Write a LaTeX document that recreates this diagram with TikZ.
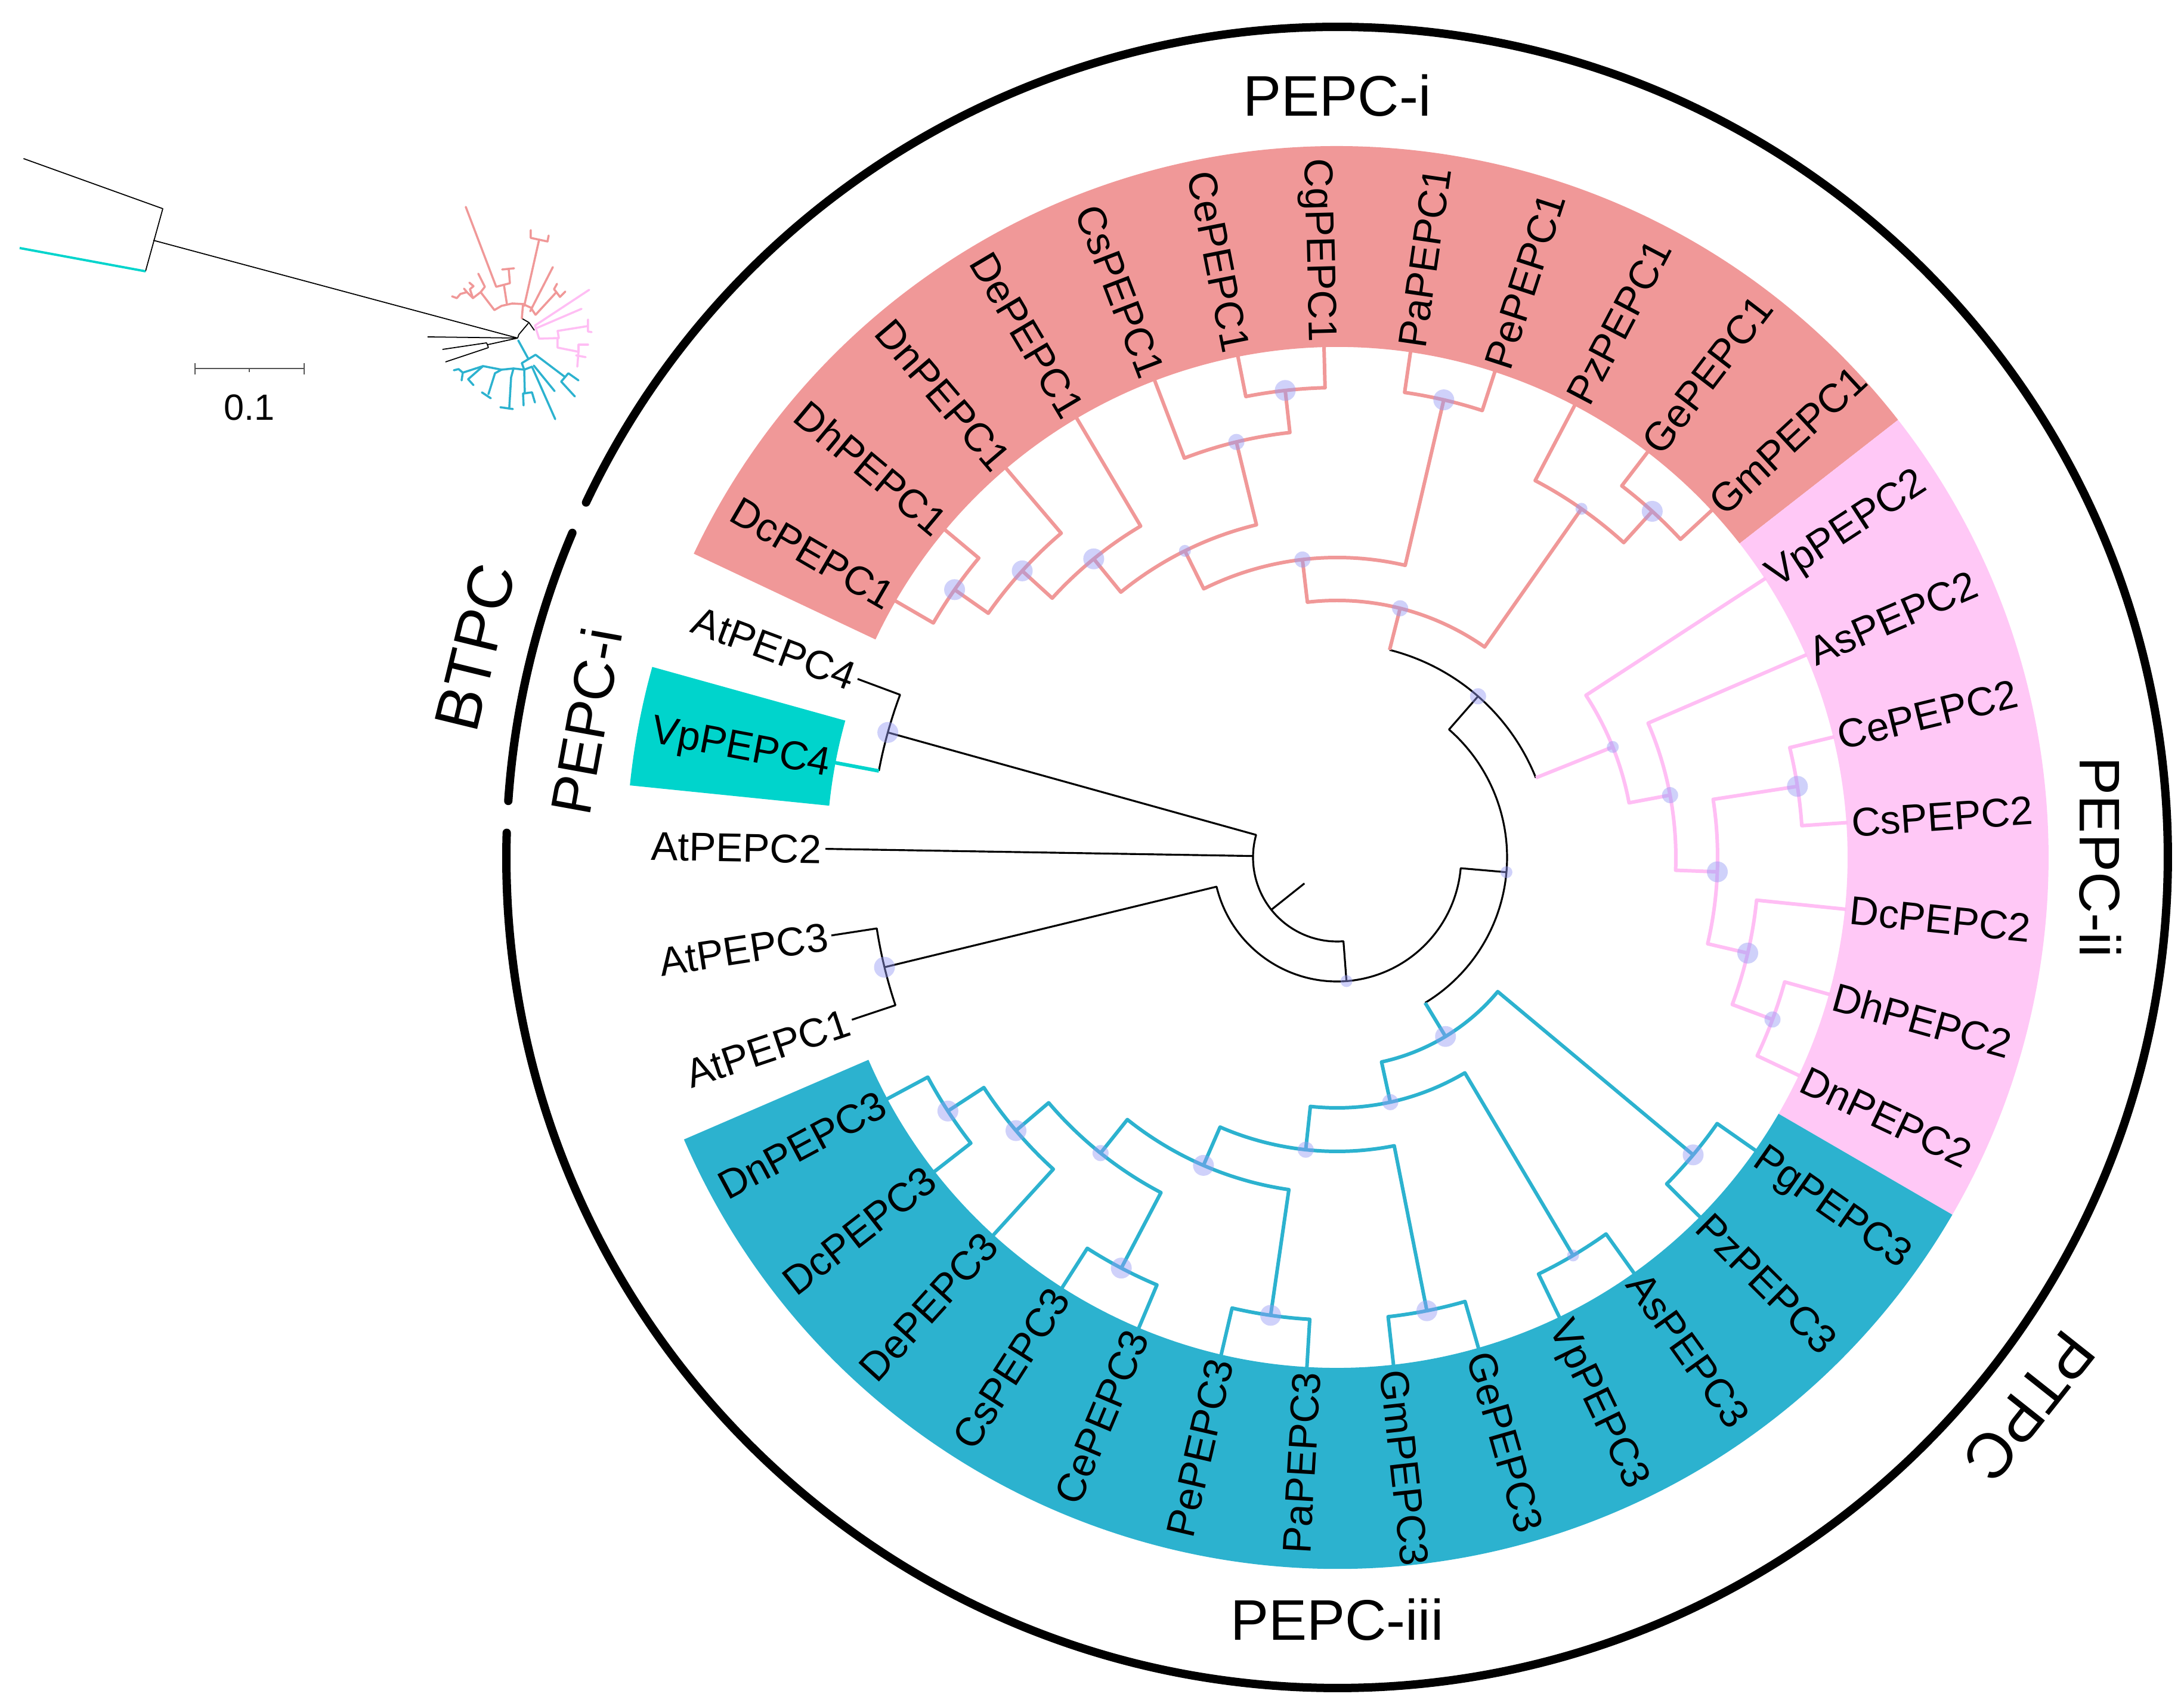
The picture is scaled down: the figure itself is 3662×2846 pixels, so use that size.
\documentclass[tikz,border=0pt]{standalone}
\usepackage{fontspec}
\setmainfont{Liberation Sans}
\definecolor{cRed}{RGB}{240,152,152}
\definecolor{cPink}{RGB}{255,200,246}
\definecolor{cPinkL}{RGB}{255,190,244}
\definecolor{cBlue}{RGB}{44,178,207}
\definecolor{cCyan}{RGB}{0,212,204}
\definecolor{cDot}{RGB}{150,155,245}
\definecolor{cBar}{RGB}{85,85,85}
\newcommand\labfont{\fontsize{19.2}{23}\selectfont}
\newcommand\secfont{\fontsize{27.3}{32}\selectfont}
\newcommand\myBigFont{\fontsize{30.2}{36}\selectfont}
\newcommand\scfont{\fontsize{17.4}{21}\selectfont}
% node path: style, angle1, end radius1, angle2, end radius2, node radius
\newcommand\nd[6]{\draw[#1] (#2:#3) -- (#2:#6) arc[start angle=#2, end angle=#4, radius=#6] -- (#4:#5);}
\newcommand\lbR[3]{\node[txtleaf, rotate=#1, anchor=west] (#3) at (#1:864) {#2};}
\newcommand\lbL[3]{\node[txtleaf, rotate=#1+180, anchor=east] (#3) at (#1:864) {#2};}
\newcommand\band[4]{\fill[#1] (#2:856) arc[start angle=#2, end angle=#3, radius=856] -- (#3:#4) arc[start angle=#3, end angle=#2, radius=#4] -- cycle;}
\tikzset{
  bl/.style={black, line width=0.9pt, line join=round},
  rd/.style={cRed, line width=1.7pt, line join=round},
  pk/.style={cPinkL, line width=1.7pt, line join=round},
  bu/.style={cBlue, line width=1.7pt, line join=round},
  cy/.style={cCyan, line width=1.7pt},
  txtleaf/.style={font=\labfont, inner sep=0pt, text height=13.75pt, text depth=0pt},
  txtsec/.style={font=\secfont, inner sep=0pt},
  txtbig/.style={font=\myBigFont, inner sep=0pt},
  dotbase/.style={circle, fill=cDot, fill opacity=0.45, draw=none, inner sep=0pt},
  dotS/.style={dotbase, minimum size=0.2cm},
  dotM/.style={dotbase, minimum size=0.27cm},
  dotL/.style={dotbase, minimum size=0.35cm},
  ringline/.style={black, line width=0.14cm, line cap=round},
  mk/.style={black, line width=0.5pt, line join=round},
  mr/.style={cRed, line width=1.0pt, line join=round, line cap=round},
  mp/.style={cPinkL, line width=1.0pt, line join=round, line cap=round},
  mb/.style={cBlue, line width=1.0pt, line join=round, line cap=round},
}
\begin{document}
\begin{tikzpicture}[x=0.01cm, y=0.01cm]
\useasboundingbox (-2242,-1408) rectangle (1420,1438);
\fill[white] (-2242,-1408) rectangle (1420,1438);

% ---------- coloured bands ----------
\band{cRed}{154.72}{37.96}{1193}
\band{cPink}{37.96}{-30.15}{1193}
\band{cBlue}{-30.15}{-156.64}{1193}
\band{cCyan}{164.45}{174.18}{1192}

% ---------- outer ring ----------
\draw[ringline] (157.0:1393) arc[start angle=157.0, end angle=176.1, radius=1393];
\draw[ringline] (178.3:1393) arc[start angle=178.3, end angle=514.7, radius=1393];

% ---------- backbone (black) ----------
\draw[bl] (164.45:782) -- (164.45:141) arc[start angle=164.45, end angle=274.33, radius=141] -- (274.33:208);
\draw[bl] (179.04:141) -- (179.04:858);
\draw[bl] (218.5:141) -- (218.5:70);
\draw[bl] (193.64:781) -- (193.64:208) arc[start angle=193.64, end angle=355.01, radius=208] -- (355.01:285);
\draw[bl] (48.83:359) -- (48.83:285) arc[start angle=48.83, end angle=-58.81, radius=285];
\draw[bu] (-58.81:285) -- (-58.81:351);
\draw[bl] (75.81:359) arc[start angle=75.81, end angle=21.84, radius=359];
\draw[rd] (75.81:359) -- (75.81:431);
\draw[pk] (21.84:359) -- (21.84:498);
\draw[bl] (159.58:858) -- (159.58:782) arc[start angle=159.58, end angle=169.31, radius=782];
\draw[cy] (169.31:782) -- (169.31:858);
\draw[bl] (188.77:858) -- (188.77:781) arc[start angle=188.77, end angle=198.5, radius=781] -- (198.5:858);

% ---------- PEPC-i (red) ----------
\nd{rd}{96.64}{503}{54.98}{714}{431}
\nd{rd}{116.40}{574}{76.88}{788}{503}
\nd{rd}{129.18}{646}{103.63}{717}{574}
\nd{rd}{137.69}{714}{120.66}{858}{646}
\nd{rd}{145.0}{783}{130.39}{858}{714}
\nd{rd}{149.85}{858}{140.12}{858}{783}
\nd{rd}{110.93}{858}{96.34}{788}{717}
\nd{rd}{101.20}{858}{91.47}{858}{788}
\nd{rd}{81.74}{858}{72.01}{858}{788}
\nd{rd}{62.28}{858}{47.69}{785}{714}
\nd{rd}{52.55}{858}{42.82}{858}{785}

% ---------- PEPC-ii (pink) ----------
\nd{pk}{33.09}{858}{10.60}{568}{498}
\nd{pk}{23.36}{858}{-2.17}{638}{568}
\nd{pk}{8.78}{781}{-13.12}{707}{638}
\nd{pk}{13.64}{858}{3.91}{858}{781}
\nd{pk}{-5.82}{858}{-20.42}{779}{707}
\nd{pk}{-15.55}{858}{-25.28}{858}{779}

% ---------- PEPC-iii (blue) ----------
\nd{bu}{-39.88}{778}{-77.74}{420}{351}
\nd{bu}{-35.01}{858}{-44.74}{858}{778}
\nd{bu}{-59.34}{776}{-96.13}{493}{420}
\nd{bu}{-54.47}{858}{-64.20}{858}{776}
\nd{bu}{-78.80}{775}{-113.46}{563}{493}
\nd{bu}{-73.93}{858}{-83.66}{858}{775}
\nd{bu}{-98.26}{776}{-128.66}{635}{563}
\nd{bu}{-93.39}{858}{-103.12}{858}{776}
\nd{bu}{-117.72}{778}{-139.61}{707}{635}
\nd{bu}{-112.85}{858}{-122.58}{858}{778}
\nd{bu}{-132.31}{858}{-146.91}{779}{707}
\nd{bu}{-142.04}{858}{-151.77}{858}{779}

% ---------- node dots ----------
\node[dotL] (K1) at (164.45:782) {};
\node[dotL] (K2) at (193.64:781) {};
\node[dotS] (N3) at (274.33:208) {};
\node[dotS] (N2) at (-4.99:285) {};
\node[dotM] (N1) at (48.83:359) {};
\node[dotL] (A1) at (145.0:783) {};
\node[dotL] (A2) at (137.69:714) {};
\node[dotL] (A3) at (129.18:646) {};
\node[dotS] (A4) at (116.40:574) {};
\node[dotM] (A5) at (96.64:503) {};
\node[dotM] (A6) at (75.81:431) {};
\node[dotL] (B1) at (96.34:788) {};
\node[dotM] (B2) at (103.63:717) {};
\node[dotL] (C1) at (76.88:788) {};
\node[dotS] (D1) at (54.98:714) {};
\node[dotL] (E1) at (47.69:785) {};
\node[dotS] (P1) at (21.84:498) {};
\node[dotM] (P2) at (10.60:568) {};
\node[dotL] (P3) at (-2.17:638) {};
\node[dotL] (P4) at (8.78:781) {};
\node[dotL] (P5) at (-13.12:707) {};
\node[dotM] (P6) at (-20.42:779) {};
\node[dotL] (Q1) at (-58.81:351) {};
\node[dotL] (Q2) at (-39.88:778) {};
\node[dotM] (Q3) at (-77.74:420) {};
\node[dotS] (Q4) at (-59.34:776) {};
\node[dotM] (Q5) at (-96.13:493) {};
\node[dotL] (G1) at (-78.80:775) {};
\node[dotL] (Q6) at (-113.46:563) {};
\node[dotL] (H1) at (-98.26:776) {};
\node[dotM] (Q7) at (-128.66:635) {};
\node[dotL] (I1) at (-117.72:778) {};
\node[dotL] (Q8) at (-139.61:707) {};
\node[dotL] (J1) at (-146.91:779) {};

% ---------- leaf labels ----------
\lbL{198.50}{AtPEPC1}{l0}
\lbL{188.77}{AtPEPC3}{l1}
\lbL{179.04}{AtPEPC2}{l2}
\lbL{169.31}{VpPEPC4}{l3}
\lbL{159.58}{AtPEPC4}{l4}
\lbL{149.85}{DcPEPC1}{l5}
\lbL{140.12}{DhPEPC1}{l6}
\lbL{130.39}{DnPEPC1}{l7}
\lbL{120.66}{DePEPC1}{l8}
\lbL{110.93}{CsPEPC1}{l9}
\lbL{101.20}{CePEPC1}{l10}
\lbL{91.47}{CgPEPC1}{l11}
\lbR{81.74}{PaPEPC1}{l12}
\lbR{72.01}{PePEPC1}{l13}
\lbR{62.28}{PzPEPC1}{l14}
\lbR{52.55}{GePEPC1}{l15}
\lbR{42.82}{GmPEPC1}{l16}
\lbR{33.09}{VpPEPC2}{l17}
\lbR{23.36}{AsPEPC2}{l18}
\lbR{13.64}{CePEPC2}{l19}
\lbR{3.91}{CsPEPC2}{l20}
\lbR{-5.82}{DcPEPC2}{l21}
\lbR{-15.55}{DhPEPC2}{l22}
\lbR{-25.28}{DnPEPC2}{l23}
\lbR{-35.01}{PgPEPC3}{l24}
\lbR{-44.74}{PzPEPC3}{l25}
\lbR{-54.47}{AsPEPC3}{l26}
\lbR{-64.20}{VpPEPC3}{l27}
\lbR{-73.93}{GePEPC3}{l28}
\lbR{-83.66}{GmPEPC3}{l29}
\lbL{-93.39}{PaPEPC3}{l30}
\lbL{-103.12}{PePEPC3}{l31}
\lbL{-112.85}{CePEPC3}{l32}
\lbL{-122.58}{CsPEPC3}{l33}
\lbL{-132.31}{DePEPC3}{l34}
\lbL{-142.04}{DcPEPC3}{l35}
\lbL{-151.77}{DnPEPC3}{l36}

% ---------- group labels ----------
\node[txtsec] (sI) at (90:1278) {PEPC-i};
\node[txtsec, rotate=-90] (sII) at (0:1280) {PEPC-ii};
\node[txtsec] (sIII) at (-90:1278) {PEPC-iii};
\node[txtsec, rotate=79.7] (sIv) at (169.7:1280) {PEPC-i};
\node[txtbig, rotate=76.3] (bt) at (166.3:1488) {BTPC};
\node[txtbig, rotate=-128.4] (pt) at (-38.4:1481) {PTPC};

% ---------- small unrooted tree (image pixel coordinates) ----------
\begin{scope}[shift={(-2242,1438)}, yscale=-1]
  \draw[mk] (39.5,266) -- (273,350) -- (244,455);
  \draw[cCyan, line width=1.1pt] (33,416) -- (244,455);
  \draw[mk] (257,403) -- (868,567);
  \draw[mk] (717,565) -- (868,567);
  \draw[mk] (868,567) -- (818,578);
  \draw[mk] (816,575) -- (819,583);
  \draw[mk] (816,575) -- (742,586);
  \draw[mk] (819,583) -- (747,607);
  \draw[mk] (868,567) -- (870,561) -- (886,542);
  \draw[mk] (875,534) -- (887,541) -- (896,554);
  % red
  \draw[mr] (829,520) -- (841,513) -- (859,509) -- (877,510) -- (890,516) -- (898,528);
  \draw[mr] (875,534) -- (877,510);
  \draw[mr] (829,520) -- (806,490) -- (813,481) -- (802,459);
  \draw[mr] (806,490) -- (793,500) -- (788,485) -- (794,480) -- (787,474);
  \draw[mr] (793,500) -- (783,490) -- (778,484);
  \draw[mr] (783,490) -- (772,493) -- (766,500) -- (758,497);
  \draw[mr] (850,510) -- (845,478);
  \draw[mr] (781,347) -- (832,481) -- (855,475) -- (853,451);
  \draw[mr] (842,452) -- (862,450);
  \draw[mr] (879,513) -- (904,402);
  \draw[mr] (890,386) -- (890,399) -- (918,405) -- (920,395);
  \draw[mr] (889,522) -- (927,448);
  \draw[mr] (898,528) -- (933,490);
  \draw[mr] (934,476) -- (929,485) -- (933,490) -- (939,498) -- (948,489);
  % pink
  \draw[mp] (897,546) -- (988,486);
  \draw[mp] (898,551) -- (975,518);
  \draw[mp] (897,546) -- (904,568) -- (937,567) -- (935,555) -- (985,547);
  \draw[mp] (986,536) -- (986,556) -- (992,557);
  \draw[mp] (935,567) -- (935,583) -- (970,590) -- (968,615);
  \draw[mp] (970,590) -- (970,578) -- (986,578);
  \draw[mp] (966,596) -- (982,599);
  % blue
  \draw[mb] (869,571) -- (886,602);
  \draw[mb] (875,609) -- (898,595) -- (947,632);
  \draw[mb] (941,640) -- (953,626) -- (970,638);
  \draw[mb] (941,640) -- (964,665);
  \draw[mb] (892,615) -- (931,703);
  \draw[mb] (895,613) -- (930,656);
  \draw[mb] (875,609) -- (879,620);
  \draw[mb] (861,618) -- (879,620) -- (892,615);
  \draw[mb] (879,620) -- (880,660);
  \draw[mb] (878,680) -- (877,660) -- (892,658) -- (897,675);
  \draw[mb] (861,618) -- (857,633) -- (854,683);
  \draw[mb] (839,683) -- (860,686);
  \draw[mb] (861,618) -- (841,620) -- (830,626) -- (819,661);
  \draw[mb] (808,658) -- (823,668);
  \draw[mb] (841,620) -- (810,614) -- (785,636) -- (794,646);
  \draw[mb] (810,614) -- (776,625) -- (769,619) -- (761,621);
  \draw[mb] (776,625) -- (774,638);
  % scale bar
  \draw[cBar, line width=0.75pt] (327,618) -- (510,618);
  \draw[cBar, line width=0.75pt] (327,609) -- (327,628);
  \draw[cBar, line width=0.75pt] (510,609) -- (510,628);
  \draw[cBar, line width=0.75pt] (418,618) -- (418,624);
  \node[font=\scfont, inner sep=0pt] (scl) at (418,683) {0.1};
\end{scope}
\end{tikzpicture}
\end{document}
